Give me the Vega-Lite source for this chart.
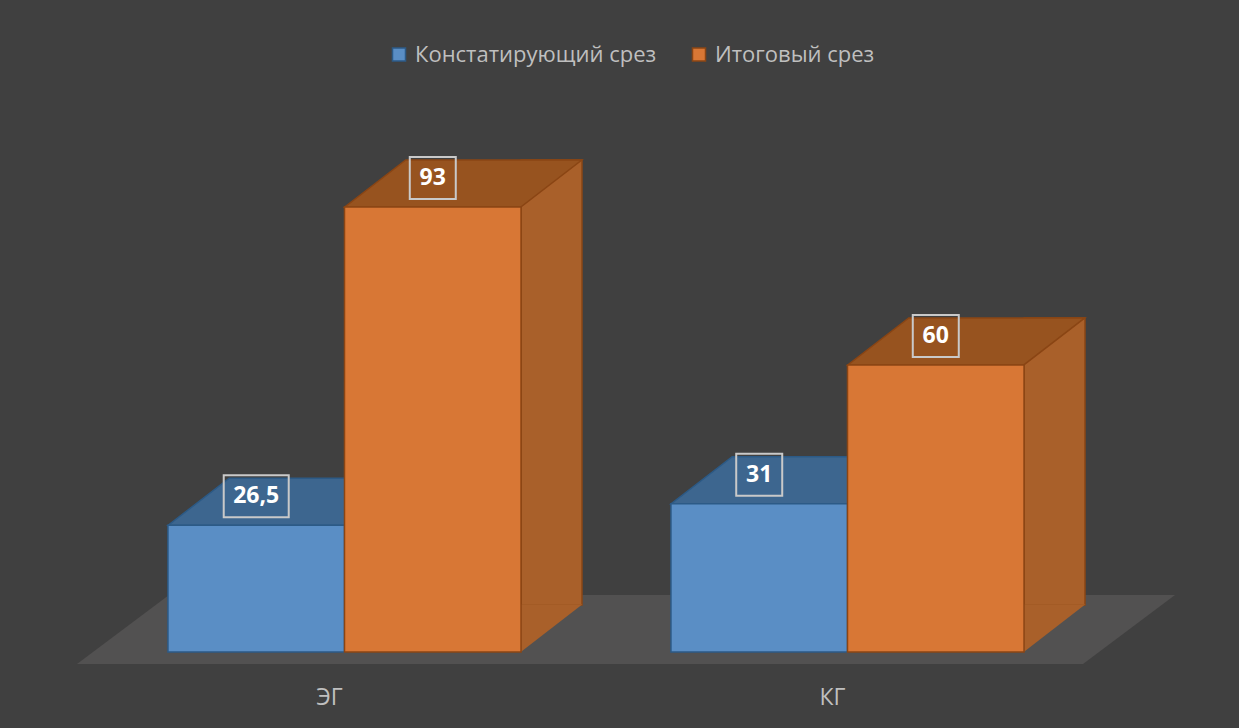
{
  "$schema": "https://vega.github.io/schema/vega-lite/v6.json",
  "autosize": "none",
  "width": 1006,
  "height": 478.5,
  "padding": {"left": 93, "top": 173.5, "right": 140, "bottom": 76},
  "background": "#404040",
  "config": {
    "view": {"stroke": null},
    "font": "Open Sans",
    "locale": {"number": {"decimal": ",", "thousands": " ", "grouping": [3], "currency": ["", " ₽"]}}
  },
  "data": {
    "values": [
      {"group": "ЭГ", "series": "Констатирующий срез", "value": 26.5},
      {"group": "ЭГ", "series": "Итоговый срез", "value": 93},
      {"group": "КГ", "series": "Констатирующий срез", "value": 31},
      {"group": "КГ", "series": "Итоговый срез", "value": 60}
    ]
  },
  "encoding": {
    "x": {
      "field": "group", "type": "nominal", "sort": ["ЭГ", "КГ"], "title": null,
      "scale": {"paddingInner": 0.298, "paddingOuter": 0.149},
      "axis": {"domain": false, "ticks": false, "labelPadding": 34, "labelOffset": -15, "labelFontSize": 23, "labelColor": "#bfbfbf", "labelAngle": 0}
    },
    "y": {"field": "value", "type": "quantitative", "scale": {"domain": [0, 100], "nice": false, "zero": true}, "axis": null}
  },
  "layer": [
    {
      "transform": [{"filter": "datum.group === 'ЭГ' && datum.series === 'Констатирующий срез'"}],
      "mark": {"type": "point", "filled": true, "size": 4, "opacity": 1, "fill": "#525151", "strokeWidth": 0,
        "shape": "M-267.5,12L738.5,12L830.5,-57L-175.5,-57Z"},
      "encoding": {"y": {"datum": 0}}
    },
    {
      "transform": [{"filter": "datum.series === 'Констатирующий срез'"}],
      "mark": {"type": "bar", "width": 61, "xOffset": 30.5, "yOffset": -47, "y2Offset": -47, "fill": "#3f6f9c", "stroke": "#2c5a86", "strokeWidth": 1.5},
      "encoding": {"y2": {"datum": 0}}
    },
    {
      "transform": [{"filter": "datum.series === 'Итоговый срез'"}],
      "mark": {"type": "bar", "width": 61, "xOffset": 207, "yOffset": -47, "y2Offset": -47, "fill": "#a9602a", "stroke": "#8a4514", "strokeWidth": 1.5},
      "encoding": {"y2": {"datum": 0}}
    },
    {
      "mark": {"type": "point", "filled": true, "size": 4, "opacity": 1, "strokeWidth": 0,
        "shape": "M88,-47.7L149.7,-47.7L88,0Z"},
      "encoding": {
        "xOffset": {"field": "series", "sort": ["Констатирующий срез", "Итоговый срез"], "scale": {"paddingInner": 0, "paddingOuter": 0}},
        "y": {"datum": 0},
        "fill": {"condition": {"test": "datum.series === 'Итоговый срез'", "value": "#a9602a"}, "value": "#3f6f9c"}
      }
    },
    {
      "mark": {"type": "point", "filled": true, "size": 4, "opacity": 1, "strokeWidth": 1.5,
        "shape": "M-88,0L88,0L149,-47L-27,-47Z"},
      "encoding": {
        "xOffset": {"field": "series", "sort": ["Констатирующий срез", "Итоговый срез"]},
        "fill": {"condition": {"test": "datum.series === 'Итоговый срез'", "value": "#97531f"}, "value": "#3d668f"},
        "stroke": {"condition": {"test": "datum.series === 'Итоговый срез'", "value": "#8a4514"}, "value": "#2c5a86"}
      }
    },
    {
      "mark": {"type": "bar", "strokeWidth": 1.5},
      "encoding": {
        "xOffset": {"field": "series", "sort": ["Констатирующий срез", "Итоговый срез"]},
        "y2": {"datum": 0},
        "color": {
          "field": "series", "type": "nominal", "sort": ["Констатирующий срез", "Итоговый срез"],
          "scale": {"domain": ["Констатирующий срез", "Итоговый срез"], "range": ["#5a8ec5", "#d87735"]},
          "legend": {
            "title": null, "orient": "none", "direction": "horizontal", "legendX": 295, "legendY": -130,
            "padding": 0, "symbolType": "square", "symbolSize": 169, "symbolStrokeWidth": 1.5,
            "labelFontSize": 22, "labelColor": "#bfbfbf", "labelOffset": 5,
            "labelLimit": 400, "columnPadding": 31
          }
        },
        "stroke": {
          "field": "series", "type": "nominal", "sort": ["Констатирующий срез", "Итоговый срез"],
          "scale": {"domain": ["Констатирующий срез", "Итоговый срез"], "range": ["#2c5a86", "#8a4514"]},
          "legend": {
            "title": null, "orient": "none", "direction": "horizontal", "legendX": 295, "legendY": -130,
            "padding": 0, "symbolType": "square", "symbolSize": 169, "symbolStrokeWidth": 1.5,
            "labelFontSize": 22, "labelColor": "#bfbfbf", "labelOffset": 5,
            "labelLimit": 400, "columnPadding": 31
          }
        }
      }
    },
    {
      "mark": {"type": "point", "filled": false, "size": 4, "opacity": 1, "strokeWidth": 2, "stroke": "#c9c9c9", "yOffset": -29},
      "encoding": {
        "xOffset": {"field": "series", "sort": ["Констатирующий срез", "Итоговый срез"]},
        "shape": {"condition": {"test": "datum.value % 1 !== 0", "value": "M-32.5,-21H32.5V21H-32.5Z"}, "value": "M-23,-21H23V21H-23Z"}
      }
    },
    {
      "mark": {"type": "text", "fontWeight": "bold", "fontSize": 23, "color": "#ffffff", "baseline": "middle", "align": "center", "yOffset": -29},
      "encoding": {
        "xOffset": {"field": "series", "sort": ["Констатирующий срез", "Итоговый срез"]},
        "text": {"field": "value", "type": "quantitative", "format": "~g"}
      }
    }
  ]
}
